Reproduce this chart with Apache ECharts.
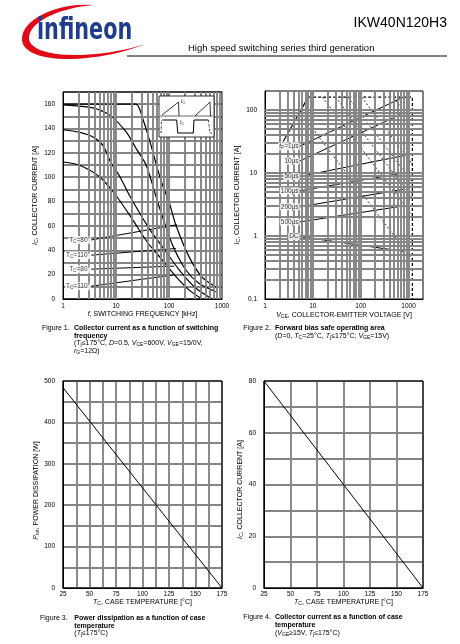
<!DOCTYPE html>
<html>
<head>
<meta charset="utf-8">
<script src="https://cdn.jsdelivr.net/npm/echarts@6/dist/echarts.min.js"></script>
<style>
  html, body { margin: 0; padding: 0; background: #fff; }
  #chart { width: 460px; height: 644px; }
</style>
</head>
<body>
<div id="chart"></div>
<script>
// Figure 1 - collector current vs switching frequency (kHz / A)
const c1Freq = [1, 10, 24, 32, 46, 58, 75, 100, 134, 237, 420, 790];
const c1Cur = [160, 160, 160, 148, 126, 110, 94, 80, 61, 35, 18, 9.5];
const c2Freq = [1, 3.7, 7.6, 15.7, 24, 37, 65, 115, 207, 365, 760];
const c2Cur = [159.5, 157, 151, 137, 123.5, 110, 76, 45, 24, 13, 6];
const c3Freq = [1, 2, 3.7, 5.7, 8, 12, 18, 42, 87, 155, 320, 650];
const c3Cur = [139, 137, 133, 126, 112, 100, 85, 58, 39, 24, 9, 0];
const c4Freq = [1, 2, 5, 10, 20, 40, 75, 134, 237, 420];
const c4Cur = [112.5, 110, 100, 85, 66, 46, 32, 18.5, 7.5, 0];
const tcTemps = ['80°', '110°', '80°', '110°'];
const tcLabelFreq = 3.4;
const tcLabelCur = [48.5, 36, 24.5, 10.5];
const tcPointFreq = [141, 135, 125, 120];
const tcPointCur = [61, 41.5, 27, 19.7];

// Figure 2 - safe operating area (V / A)
const diagV = [2.4, 8];
const diagI = [31.6, 160];
const limitV = [8, 1200, 1200];
const limitI = [160, 160, 0.1];
const pulseStartV = [480, 104, 54, 30, 15.8, 5.4];
const pulseStartI = [160, 160, 160, 160, 160, 92];
const pulseEndV = 1200;
const pulseEndI = [64, 13.9, 7.2, 4.0, 2.1, 0.42];
const soaNames = ['{i|t}{s|P}=1µs', '10µs', '50µs', '100µs', '200µs', '500µs', 'DC'];
const soaLabelV = 5.3;
const soaLabelI = [26.5, 15.5, 8.8, 5.2, 2.9, 1.67, 0.98];
const soaPointV = 780;
const soaPointI = [160, 89, 18.8, 10, 5.5, 3.0, 0.57];

// Figures 3 and 4 - derating vs case temperature
const caseTemp = [25, 175];
const powerTot = [484, 0];
const currentC = [80, 0];

const FONT = '"Liberation Sans", Arial, Helvetica, sans-serif';
const GRID = '#858585';
const GRID_W = 1.9;

function richFor(size, weight) {
  const w = weight || 'normal';
  const sub = Math.round(size * 0.72 * 10) / 10;
  return {
    i: { fontStyle: 'italic', fontSize: size, fontWeight: w, fontFamily: FONT, color: '#000', fill: '#000' },
    s: { fontSize: sub, fontWeight: w, fontFamily: FONT, color: '#000', fill: '#000', padding: [size * 0.45, 0, 0, 0] },
    b: { fontSize: size, fontWeight: 'bold', fontFamily: FONT, color: '#000', fill: '#000' }
  };
}

function decadeLabel(v) {
  const l = Math.log10(v);
  return Math.abs(l - Math.round(l)) < 1e-6 ? String(+v.toPrecision(3)) : '';
}

function logLines(min, max) {
  const out = [];
  for (let d = min; d < max; d *= 10) {
    for (let k = 1; k < 10; k++) {
      const v = +(d * k).toPrecision(3);
      if (v > min && v < max) out.push(v);
    }
  }
  return out;
}

const tickLabel = { fontSize: 6.5, color: '#000', fontFamily: FONT };
const nameStyle = { fontSize: 7, color: '#000', fontFamily: FONT, rich: richFor(7) };
const axisLine = { show: true, lineStyle: { color: '#000', width: 1 } };
const split = { show: true, lineStyle: { color: GRID, width: GRID_W } };

function linAxis(grid, min, max, interval, every, extra) {
  return Object.assign({
    gridIndex: grid, type: 'value', min: min, max: max, interval: interval,
    axisLine: axisLine, axisTick: { show: false }, splitLine: split,
    axisLabel: Object.assign({}, tickLabel, { formatter: v => (v % every === 0 ? String(v) : '') }),
    nameLocation: 'middle', nameTextStyle: nameStyle
  }, extra);
}

function logAxis(grid, min, max, extra) {
  return Object.assign({
    gridIndex: grid, type: 'log', logBase: 10, min: min, max: max,
    axisLine: axisLine, axisTick: { show: false }, splitLine: { show: false },
    axisLabel: Object.assign({}, tickLabel, { formatter: decadeLabel }),
    nameLocation: 'middle', nameTextStyle: nameStyle
  }, extra);
}

function gridLines(idx, xs, ys) {
  return {
    type: 'line', xAxisIndex: idx, yAxisIndex: idx, data: [], silent: true, z: 1,
    markLine: {
      silent: true, symbol: ['none', 'none'], animation: false, label: { show: false },
      lineStyle: { color: GRID, width: GRID_W, type: 'solid' },
      emphasis: { disabled: true },
      data: xs.map(v => ({ xAxis: v })).concat(ys.map(v => ({ yAxis: v })))
    }
  };
}

function curve(idx, xs, ys, style) {
  return {
    type: 'line', xAxisIndex: idx, yAxisIndex: idx, showSymbol: false, silent: true, z: 3,
    smooth: style.smooth || false,
    lineStyle: Object.assign({ color: '#000', width: 1.2 }, style.line),
    data: xs.map((x, i) => [x, ys[i]])
  };
}

function labels(idx, xs, ys, texts, size) {
  return {
    type: 'scatter', xAxisIndex: idx, yAxisIndex: idx, symbolSize: 0.1, silent: true, z: 6,
    itemStyle: { color: 'transparent' },
    data: xs.map((x, i) => [x, ys[i]]),
    label: {
      show: true, position: 'left', distance: 0, fontSize: size, fontFamily: FONT, color: '#000',
      backgroundColor: '#fff', padding: [0, 1, 0, 1],
      formatter: p => texts[p.dataIndex], rich: richFor(size)
    }
  };
}

const series = [];

// figure 1
series.push(gridLines(0, logLines(1, 1000), []));
series.push(curve(0, c1Freq, c1Cur, { smooth: 0.25 }));
series.push(curve(0, c2Freq, c2Cur, { smooth: 0.25 }));
series.push(curve(0, c3Freq, c3Cur, { smooth: 0.25 }));
series.push(curve(0, c4Freq, c4Cur, { smooth: 0.25 }));
tcLabelCur.forEach((y, i) => {
  series.push(curve(0, [tcLabelFreq, tcPointFreq[i]], [y, tcPointCur[i]], { line: { width: 1 } }));
});
series.push(labels(0, tcLabelCur.map(() => tcLabelFreq), tcLabelCur,
  tcTemps.map(t => 'T{s|C}=' + t), 6.5));

// figure 2
series.push(gridLines(1, logLines(1, 2000), logLines(0.1, 200)));
series.push(curve(1, diagV, diagI, { line: { width: 1.2 } }));
series.push(curve(1, limitV, limitI, { line: { width: 1.3, type: [3, 2] } }));
pulseStartV.forEach((v, i) => {
  series.push(curve(1, [v, pulseEndV], [pulseStartI[i], pulseEndI[i]], { line: { width: 1, color: '#333', type: [2, 2] } }));
});
soaLabelI.forEach((y, i) => {
  series.push(curve(1, [soaLabelV, soaPointV], [y, soaPointI[i]], { line: { width: 1 } }));
});
series.push(labels(1, soaLabelI.map(() => soaLabelV), soaLabelI, soaNames, 6.5));

// figure 3 and 4
series.push(curve(2, caseTemp, powerTot, { line: { width: 1 } }));
series.push(curve(3, caseTemp, currentC, { line: { width: 1 } }));

const grid = [
  { left: 63, top: 92, width: 159, height: 207 },
  { left: 265, top: 91, width: 158, height: 208 },
  { left: 63, top: 381, width: 159, height: 207 },
  { left: 264, top: 381, width: 159, height: 207 }
].map(g => Object.assign(g, { show: true, borderColor: '#000', borderWidth: 1, z: 4 }));

const icName = '{i|I}{s|C}, COLLECTOR CURRENT [A]';
const tcName = '{i|T}{s|C}, CASE TEMPERATURE [°C]';

const xAxis = [
  logAxis(0, 1, 1000, { name: '{i|f}, SWITCHING FREQUENCY [kHz]', nameGap: 12, axisLabel: Object.assign({}, tickLabel, { formatter: decadeLabel, margin: 4 }) }),
  logAxis(1, 1, 2000, { name: '{i|V}{s|CE}, COLLECTOR-EMITTER VOLTAGE [V]', nameGap: 12, axisLabel: Object.assign({}, tickLabel, { formatter: decadeLabel, margin: 4 }) }),
  linAxis(2, 25, 175, 12.5, 25, { name: tcName, nameGap: 9, axisLabel: Object.assign({}, tickLabel, { margin: 3, formatter: v => (v % 25 === 0 ? String(v) : '') }) }),
  linAxis(3, 25, 175, 25, 25, { name: tcName, nameGap: 9, axisLabel: Object.assign({}, tickLabel, { margin: 3 }) })
];
const yAxis = [
  linAxis(0, 0, 170, 10, 20, { name: icName, nameGap: 24 }),
  logAxis(1, 0.1, 200, { name: icName, nameGap: 24 }),
  linAxis(2, 0, 500, 50, 100, { name: '{i|P}{s|tot}, POWER DISSIPATION [W]', nameGap: 19,
    nameTextStyle: Object.assign({}, nameStyle, { padding: [0, 12, 0, 0] }) }),
  linAxis(3, 0, 80, 10, 20, { name: icName, nameGap: 20,
    nameTextStyle: Object.assign({}, nameStyle, { padding: [0, 10, 0, 0] }) })
];

function txt(x, y, text, size, opts) {
  const o = opts || {};
  return {
    type: 'text', x: x, y: y, silent: true, z: 10, scaleX: o.scaleX || 1,
    style: {
      text: text, fill: o.color || '#000', fontSize: size, fontFamily: o.family || FONT,
      fontWeight: o.weight || 'normal', align: o.align || 'left', verticalAlign: 'middle',
      rich: richFor(size, o.weight)
    }
  };
}

// sample cubic bezier segments into polygon points for the logo swoosh
function bezierPoints(start, segs) {
  const pts = [start];
  let p0 = start;
  segs.forEach(s => {
    for (let k = 1; k <= 12; k++) {
      const t = k / 12, u = 1 - t;
      pts.push([
        u * u * u * p0[0] + 3 * u * u * t * s[0][0] + 3 * u * t * t * s[1][0] + t * t * t * s[2][0],
        u * u * u * p0[1] + 3 * u * u * t * s[0][1] + 3 * u * t * t * s[1][1] + t * t * t * s[2][1]
      ]);
    }
    p0 = s[2];
  });
  return pts;
}
const swoosh = bezierPoints([94, 5], [
  [[60, 2], [24, 18], [22, 37]],
  [[20, 52], [42, 60], [72, 59]],
  [[100, 58], [126, 52], [145, 44]],
  [[124, 51], [98, 55], [74, 55]],
  [[46, 55], [28, 48], [29, 37]],
  [[30, 22], [58, 8], [94, 5]]
]);

// small waveform sketch inside figure 1
const INSET_Z = 20;
function insetEl(el) { return Object.assign({ z: INSET_Z, silent: true }, el); }
const inset = {
  type: 'group', x: 159, y: 96,
  children: [
    insetEl({ type: 'rect', shape: { x: 0, y: 0, width: 55, height: 41 }, style: { fill: '#fff', stroke: '#000', lineWidth: 0.8 } }),
    insetEl({ type: 'line', shape: { x1: 1, y1: 20, x2: 54, y2: 20 }, style: { stroke: '#000', lineWidth: 0.6 } }),
    insetEl({ type: 'polyline', shape: { points: [[3, 19], [19.5, 6], [20, 20]] }, style: { stroke: '#000', fill: null, lineWidth: 0.8 } }),
    insetEl({ type: 'polyline', shape: { points: [[36, 20], [51, 6], [51.5, 20]] }, style: { stroke: '#000', fill: null, lineWidth: 0.8 } }),
    insetEl({ type: 'text', x: 22, y: 6, style: { text: '{i|I}{s|C}', fontSize: 5, fontFamily: FONT, verticalAlign: 'middle', rich: richFor(5) } }),
    insetEl({ type: 'polyline', shape: { points: [[4.5, 24], [17.7, 24], [18.7, 37], [34.3, 37], [35, 24], [49.3, 24]] }, style: { stroke: '#000', fill: null, lineWidth: 1 } }),
    insetEl({ type: 'polyline', shape: { points: [[2, 37], [2.5, 24], [4.5, 24]] }, style: { stroke: '#000', fill: null, lineWidth: 0.8, lineDash: [2, 1, 0.5, 1] } }),
    insetEl({ type: 'polyline', shape: { points: [[49.3, 24], [51, 37], [53, 37]] }, style: { stroke: '#000', fill: null, lineWidth: 0.8, lineDash: [2, 1, 0.5, 1] } }),
    insetEl({ type: 'text', x: 21, y: 27, style: { text: '{i|I}{s|C}', fontSize: 5, fontFamily: FONT, verticalAlign: 'middle', rich: richFor(5) } })
  ]
};

const capSize = 7;
const graphic = [
  { type: 'polygon', silent: true, z: 9, shape: { points: swoosh }, style: { fill: '#e30a17' } },
  txt(37, 31.5, 'infineon', 30, { color: '#1f3d8c', weight: 'bold', scaleX: 0.77, family: '"Liberation Sans Narrow", "DejaVu Sans Condensed", sans-serif' }),
  txt(447, 23, 'IKW40N120H3', 14, { align: 'right' }),
  txt(188, 48.5, 'High speed switching series third generation', 9.5),
  { type: 'line', silent: true, z: 9, shape: { x1: 127, y1: 56, x2: 447, y2: 56 }, style: { stroke: '#000', lineWidth: 1 } },
  inset,

  // captions
  txt(42, 328.3, 'Figure 1.', capSize),
  txt(74, 328.3, 'Collector current as a function of switching', capSize, { weight: 'bold' }),
  txt(74, 336, 'frequency', capSize, { weight: 'bold' }),
  txt(74, 343.5, '({i|T}{s|j}≤175°C, {i|D}=0.5, {i|V}{s|CE}=600V, {i|V}{s|GE}=15/0V,', capSize),
  txt(74, 351.5, '{i|r}{s|G}=12Ω)', capSize),

  txt(243.3, 328.3, 'Figure 2.', capSize),
  txt(275, 328.3, 'Forward bias safe operating area', capSize, { weight: 'bold' }),
  txt(275, 336, '({i|D}=0, {i|T}{s|C}=25°C, {i|T}{s|j}≤175°C; {i|V}{s|GE}=15V)', capSize),

  txt(40, 618.3, 'Figure 3.', capSize),
  txt(74.3, 618.3, 'Power dissipation as a function of case', capSize, { weight: 'bold' }),
  txt(74.3, 626, 'temperature', capSize, { weight: 'bold' }),
  txt(74.3, 633.5, '({i|T}{s|j}≤175°C)', capSize),

  txt(243.3, 617.5, 'Figure 4.', capSize),
  txt(275, 617.5, 'Collector current as a function of case', capSize, { weight: 'bold' }),
  txt(275, 625.3, 'temperature', capSize, { weight: 'bold' }),
  txt(275, 633.3, '({i|V}{s|GE}≥15V, {i|T}{s|j}≤175°C)', capSize)
];

const chart = echarts.init(document.getElementById('chart'), null, { renderer: 'canvas', width: 460, height: 644 });
chart.setOption({
  backgroundColor: '#fff',
  animation: false,
  textStyle: { fontFamily: FONT },
  grid: grid,
  xAxis: xAxis,
  yAxis: yAxis,
  series: series,
  graphic: graphic
});
</script>
</body>
</html>
